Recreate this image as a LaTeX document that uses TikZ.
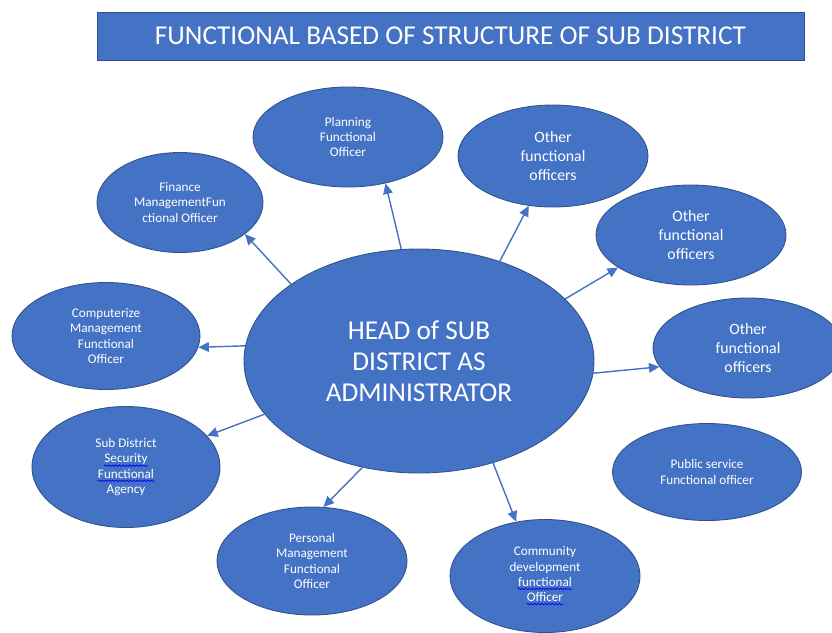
\documentclass[tikz,border=0pt]{standalone}
\usepackage{fontspec}
\setmainfont{Carlito}
\usetikzlibrary{arrows.meta,positioning,shapes.geometric,decorations.pathmorphing}

\definecolor{officeblue}{HTML}{4472C4}
\definecolor{officeline}{HTML}{2F528F}

\newcommand\spellwave[1]{\tikz[baseline=(w.base)]{\node[inner sep=0pt, shape=rectangle, draw=none, fill=none, minimum size=0pt] (w) {#1};
  \draw[blue, line width=0.4pt, decorate, decoration={snake, amplitude=0.45pt, segment length=2pt}]
    ([yshift=-1.6pt]w.base west) -- ([yshift=-1.6pt]w.base east);}}

\begin{document}
\begin{tikzpicture}[
  unit/.style={ellipse, fill=officeblue, draw=officeline, line width=0.5pt, inner sep=0pt,
    text=white, align=center, font=\fontsize{7.5}{8.6}\selectfont,
    minimum width=3.8cm, minimum height=2cm},
  other/.style={unit, font=\fontsize{9}{10.6}\selectfont},
  link/.style={draw=officeblue, line width=0.8pt, -{Triangle[length=6pt,width=5.5pt]}}]

  \useasboundingbox (0,0) rectangle (16.64,-12.64);

  \node[fill=officeblue, draw=officeline, minimum width=14.14cm, minimum height=0.96cm,
    text=white, font=\fontsize{15.5}{18}\selectfont] (title) at (9.01,-0.72)
    {FUNCTIONAL BASED OF STRUCTURE OF SUB DISTRICT};

  % head in the middle
  \node[unit, minimum width=7cm, minimum height=4.48cm, font=\fontsize{15.5}{17.5}\selectfont]
    (head) at (8.38,-7.22) {HEAD of SUB\\DISTRICT AS\\ADMINISTRATOR};

  % functional officers round it
  \node[unit] (plan) at (6.96,-2.74) {Planning\\Functional\\Officer};
  \node[unit, minimum width=3.32cm] (fin) at (3.6,-4.05) {Finance\\ManagementFun\\ctional Officer};
  \node[other, minimum height=2.04cm] (oth1) at (11.06,-3.12) {Other\\functional\\officers};
  \node[other] (oth2) at (13.82,-4.7) {Other\\functional\\officers};
  \node[other] (oth3) at (14.96,-6.96) {Other\\functional\\officers};
  \node[unit, minimum width=3.76cm, minimum height=2.14cm] (comp) at (2.12,-6.72)
    {Computerize\\Management\\Functional\\Officer};
  \node[unit, minimum width=3.76cm, minimum height=2.42cm] (sec) at (2.52,-9.34)
    {Sub District\\\spellwave{Security}\\\spellwave{Functional}\\Agency};
  \node[unit, minimum width=3.78cm, minimum height=1.94cm] (pub) at (14.14,-9.44)
    {Public service\\Functional officer};
  \node[unit, minimum height=2.16cm] (pers) at (6.24,-11.22)
    {Personal\\Management\\Functional\\Officer};
  \node[unit, minimum height=2.26cm] (comm) at (10.9,-11.52)
    {Community\\development\\\spellwave{functional}\\\spellwave{Officer}};

  \draw[link] (head.99) -- (plan.-51);
  \draw[link] (head.149) -- (fin.-26);
  \draw[link] (head.51) -- (oth1.-116);
  \draw[link] (head.23) -- (oth2.204);
  \draw[link] (head.-4) -- (oth3.192);
  \draw[link] (head.175) -- (comp.-7);
  \draw[link] (head.199) -- (sec.21);
  \draw[link] (head.242) -- (pers.78);
  \draw[link] (head.306) -- (comm.118);
\end{tikzpicture}
\end{document}
